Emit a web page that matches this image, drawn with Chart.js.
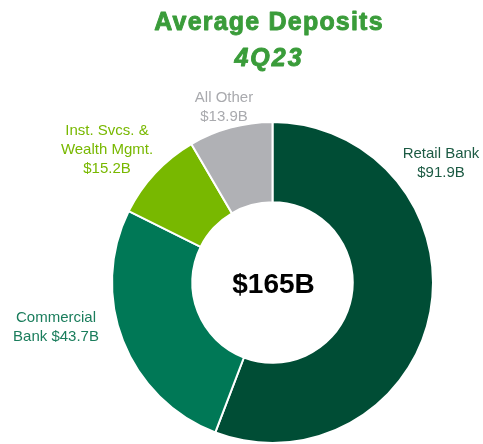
<!DOCTYPE html>
<html>
<head>
<meta charset="utf-8">
<script src="https://cdn.jsdelivr.net/npm/chart.js@4/dist/chart.umd.min.js"></script>
<style>
  html, body { margin: 0; padding: 0; background: #fff; }
  #wrap { width: 483px; height: 444px; }
</style>
</head>
<body>
<div id="wrap"><canvas id="depositsChart" width="483" height="444"></canvas></div>
<script>
const segments = ['Retail Bank', 'Commercial Bank', 'Inst. Svcs. & Wealth Mgmt.', 'All Other'];
const deposits = [91.9, 43.7, 15.2, 13.9];
const labelLines = [
  ['Retail Bank', '$91.9B'],
  ['Commercial', 'Bank $43.7B'],
  ['Inst. Svcs. &', 'Wealth Mgmt.', '$15.2B'],
  ['All Other', '$13.9B']
];
const titleText = 'Average Deposits';
const subtitleText = '4Q23';
const totalText = '$165B';

const fillColors = ['#004d35', '#007856', '#78b800', '#b0b1b5'];
const textColors = ['#1c5a43', '#1a7d5c', '#78b800', '#a9aaae'];

// where each label block sits (center x, first baseline y)
const labelSpots = [
  { x: 441, y: 158 },
  { x: 56, y: 322 },
  { x: 107, y: 135 },
  { x: 224, y: 102 }
];

const textPlugin = {
  id: 'textPlugin',
  afterDraw(chart) {
    const ctx = chart.ctx;
    ctx.save();
    ctx.textAlign = 'center';
    ctx.textBaseline = 'alphabetic';

    // title - heavy font in the original, so widen and thicken a bit
    ctx.fillStyle = '#3a9c3a';
    ctx.strokeStyle = '#3a9c3a';
    ctx.lineWidth = 0.9;
    ctx.lineJoin = 'round';
    ctx.letterSpacing = '1.2px';
    ctx.font = 'bold 25px "Liberation Sans", Arial, sans-serif';
    ctx.fillText(titleText, 269, 30);
    ctx.strokeText(titleText, 269, 30);
    ctx.letterSpacing = '2px';
    ctx.font = 'italic bold 25px "Liberation Sans", Arial, sans-serif';
    ctx.fillText(subtitleText, 269, 66);
    ctx.strokeText(subtitleText, 269, 66);
    ctx.letterSpacing = '0px';

    // segment labels
    ctx.font = '15px "Liberation Sans", Arial, sans-serif';
    labelLines.forEach((lines, i) => {
      ctx.fillStyle = textColors[i];
      lines.forEach((line, j) => {
        ctx.fillText(line, labelSpots[i].x, labelSpots[i].y + j * 19);
      });
    });

    // center total
    const meta = chart.getDatasetMeta(0).data[0];
    ctx.fillStyle = '#000';
    ctx.font = 'bold 28px "Liberation Sans", Arial, sans-serif';
    ctx.fillText(totalText, meta.x + 1, meta.y + 10);
    ctx.restore();
  }
};

new Chart(document.getElementById('depositsChart').getContext('2d'), {
  type: 'doughnut',
  data: {
    labels: segments,
    datasets: [{
      data: deposits,
      backgroundColor: fillColors,
      borderColor: '#ffffff',
      borderWidth: 2
    }]
  },
  options: {
    responsive: false,
    animation: false,
    cutout: '50%',
    layout: {
      padding: { top: 121, bottom: 0, left: 111, right: 49 }
    },
    plugins: {
      legend: { display: false },
      tooltip: { enabled: false }
    }
  },
  plugins: [textPlugin]
});
</script>
</body>
</html>
